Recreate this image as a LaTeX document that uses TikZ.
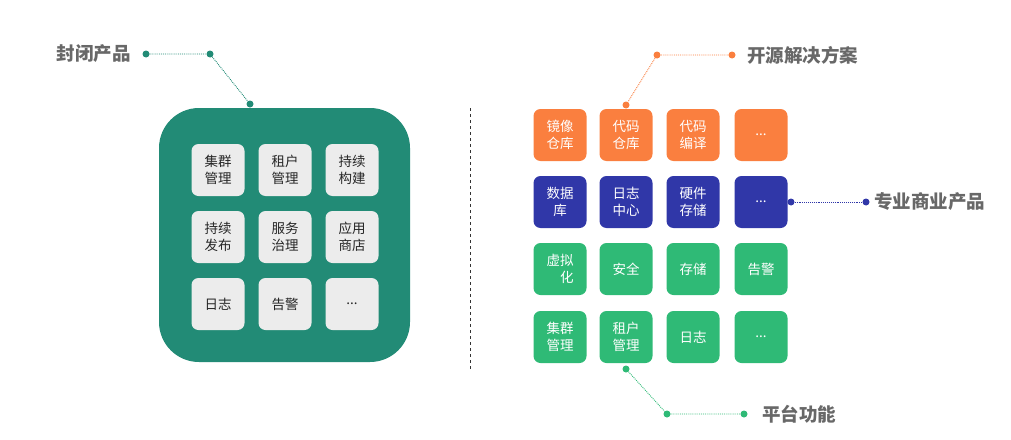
\documentclass[tikz,border=0pt]{standalone}
\usepackage{fontspec}
\setmainfont{Noto Sans CJK SC}
\usetikzlibrary{positioning}
\definecolor{tealbg}{RGB}{34,139,118}
\definecolor{boxgrey}{RGB}{236,236,236}
\definecolor{orangebox}{RGB}{250,127,63}
\definecolor{bluebox}{RGB}{48,55,168}
\definecolor{greenbox}{RGB}{47,186,118}
\definecolor{labelgrey}{RGB}{104,104,104}
\begin{document}
\begin{tikzpicture}[x=1pt, y=-1pt,
    every node/.style = {align=center, font=\fontsize{13.5}{17.5}\selectfont},
    tile/.style = {shape=rectangle, rounded corners=7pt, inner sep=0pt,
      minimum width=53pt, minimum height=52pt},
    greytile/.style = {tile, fill=boxgrey, text=black!85},
    orangetile/.style = {tile, fill=orangebox, text=white},
    bluetile/.style = {tile, fill=bluebox, text=white},
    greentile/.style = {tile, fill=greenbox, text=white},
    dot/.style = {shape=circle, fill=#1, inner sep=0pt, minimum size=7pt},
    leader/.style = {draw=#1, densely dotted, line width=0.9pt},
    title/.style = {inner sep=0pt, text=labelgrey,
      font=\fontsize{18.5}{20}\selectfont\bfseries}]
  \useasboundingbox (0,0) rectangle (1011,439);
  \fill[tealbg, rounded corners=40pt] (159,108) rectangle (410,362);
  \draw[black!80, dashed, line width=0.6pt] (470,108) -- (470,370);

  \node[greytile] (jqgl) at (218,170) {集群\\管理};
  \node[greytile] (zhgl) at (285,170) {租户\\管理};
  \node[greytile] (cxgj) at (352,170) {持续\\构建};
  \node[greytile] (cxfb) at (218,237) {持续\\发布};
  \node[greytile] (fwzl) at (285,237) {服务\\治理};
  \node[greytile] (yysd) at (352,237) {应用\\商店};
  \node[greytile] (rz) at (218,304) {日志};
  \node[greytile] (gj) at (285,304) {告警};
  \node[greytile] (more) at (352,304) {...};

  \node[orangetile] (jxck) at (560,135) {镜像\\仓库};
  \node[orangetile] (dmck) at (626,135) {代码\\仓库};
  \node[orangetile] (dmby) at (693,135) {代码\\编译};
  \node[orangetile] (omore) at (761,135) {...};
  \node[bluetile] (sjk) at (560,202) {数据\\库};
  \node[bluetile] (rzzx) at (626,202) {日志\\中心};
  \node[bluetile] (yjcc) at (693,202) {硬件\\存储};
  \node[bluetile] (bmore) at (761,202) {...};
  \node[greentile, align=right] (xnh) at (560,269) {虚拟\\化};
  \node[greentile] (aq) at (626,269) {安全};
  \node[greentile] (cc) at (693,269) {存储};
  \node[greentile] (ggj) at (761,269) {告警};
  \node[greentile] (gjqgl) at (560,337) {集群\\管理};
  \node[greentile] (gzhgl) at (626,337) {租户\\管理};
  \node[greentile] (grz) at (693,337) {日志};
  \node[greentile] (gmore) at (761,337) {...};

  \node[title, anchor=east] (fbcp) at (131,54) {封闭产品};
  \node[dot=tealbg] (fb1) at (146,54) {};
  \node[dot=tealbg] (fb2) at (210,54) {};
  \node[dot=tealbg] (fb3) at (250,104) {};
  \draw[leader=tealbg] (fb1) -- (fb2) -- (fb3);

  \node[title, anchor=west] (kyfa) at (747,55) {开源解决方案};
  \node[dot=orangebox] (ky1) at (732,55) {};
  \node[dot=orangebox] (ky2) at (657,55) {};
  \node[dot=orangebox] (ky3) at (626,105) {};
  \draw[leader=orangebox] (ky1) -- (ky2) -- (ky3);

  \node[title, anchor=west] (syzp) at (874,202) {专业商业产品};
  \node[dot=bluebox] (sy1) at (791,202) {};
  \node[dot=bluebox] (sy2) at (866,202) {};
  \draw[leader=bluebox] (sy1) -- (sy2);

  \node[title, anchor=west] (ptgn) at (762,414) {平台功能};
  \node[dot=greenbox] (pt1) at (626,369) {};
  \node[dot=greenbox] (pt2) at (667,414) {};
  \node[dot=greenbox] (pt3) at (744,414) {};
  \draw[leader=greenbox] (pt1) -- (pt2) -- (pt3);
\end{tikzpicture}
\end{document}
